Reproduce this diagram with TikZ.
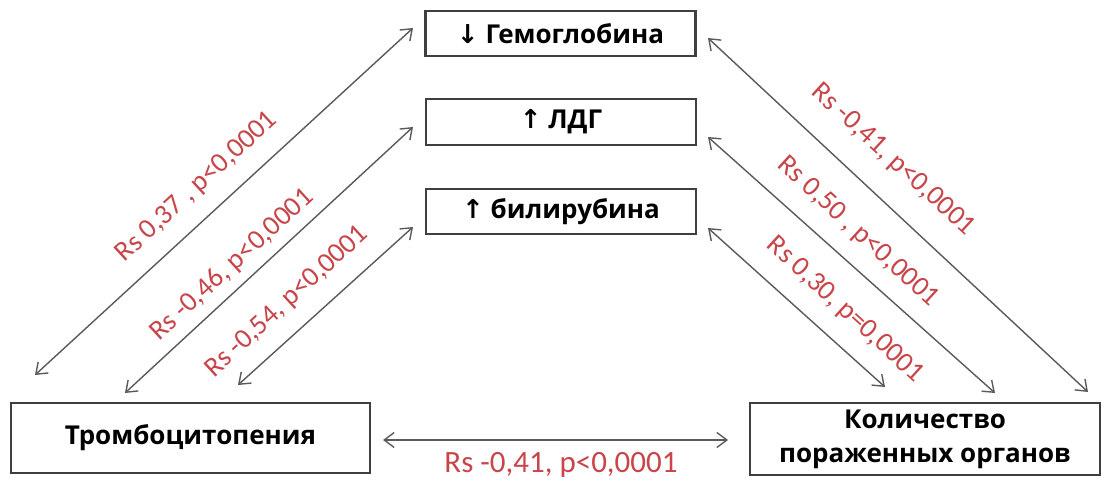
\documentclass[tikz,border=0pt]{standalone}
\usepackage{fontspec}
\setmainfont{Open Sans}
\newfontfamily\redfont{Carlito}
\newfontfamily\symfont{DejaVu Sans}
\usetikzlibrary{arrows.meta}
\definecolor{lblred}{HTML}{C8454A}
\definecolor{boxgray}{HTML}{3F3F3F}
\definecolor{arrgray}{HTML}{5A5A5A}
\begin{document}
\begin{tikzpicture}[x=1pt,y=-1pt,
  box/.style={draw=boxgray,line width=2.4pt,fill=white,inner sep=0pt,align=center,
    font=\bfseries\fontsize{26}{34}\selectfont},
  biarrow/.style={draw=arrgray,line width=1.4pt,{Straight Barb[length=10pt,width=15pt]}-{Straight Barb[length=10pt,width=15pt]}},
  lbl/.style={text=lblred,inner sep=0pt,font=\redfont\fontsize{28}{30}\selectfont}]
\useasboundingbox[fill=white] (0,0) rectangle (1109,481);
% boxes
\node[box,minimum width=270pt,minimum height=45pt] (hb) at (560.5,33.5) {{\symfont\bfseries ↓} Гемоглобина};
\node[box,minimum width=270pt,minimum height=46pt] (ldg) at (561,122) {{\symfont\bfseries ↑} ЛДГ};
\node[box,minimum width=270pt,minimum height=45pt] (bil) at (561,211.5) {{\symfont\bfseries ↑} билирубина};
\node[box,minimum width=359pt,minimum height=70pt] (tromb) at (190.5,438) {Тромбоцитопения};
\node[box,minimum width=350pt,minimum height=72pt] (kol) at (925,439) {Количество\\пораженных органов};
% arrow end points
\coordinate (l1a) at (35,375);  \coordinate (l1b) at (413,28);
\coordinate (l2a) at (125,393); \coordinate (l2b) at (413,127);
\coordinate (l3a) at (238,385); \coordinate (l3b) at (413,227);
\coordinate (r1a) at (708,38);  \coordinate (r1b) at (1088,392);
\coordinate (r2a) at (708,137); \coordinate (r2b) at (995,393);
\coordinate (r3a) at (708,228); \coordinate (r3b) at (885,387);
\coordinate (ba) at (383,440);  \coordinate (bb) at (728,440);
\draw[biarrow] (l1a) -- (l1b);
\draw[biarrow] (l2a) -- (l2b);
\draw[biarrow] (l3a) -- (l3b);
\draw[biarrow] (r1a) -- (r1b);
\draw[biarrow] (r2a) -- (r2b);
\draw[biarrow] (r3a) -- (r3b);
\draw[biarrow] (ba) -- (bb);
% labels
\node[lbl,rotate=42.5] (t1) at (197,187) {Rs 0,37 , p<0,0001};
\node[lbl,rotate=42.5] (t2) at (232,265) {Rs -0,46, p<0,0001};
\node[lbl,rotate=42.5] (t3) at (287,302) {Rs -0,54, p<0,0001};
\node[lbl,rotate=-42.5] (t4) at (893,160) {Rs -0,41, p<0,0001};
\node[lbl,rotate=-42.5] (t5) at (858,232) {Rs 0,50 , p<0,0001};
\node[lbl,rotate=-42.5] (t6) at (845,310) {Rs 0,30, p=0,0001};
\node[lbl,font=\redfont\fontsize{31}{33}\selectfont] (t7) at (561,465) {Rs -0,41, p<0,0001};
\end{tikzpicture}
\end{document}
